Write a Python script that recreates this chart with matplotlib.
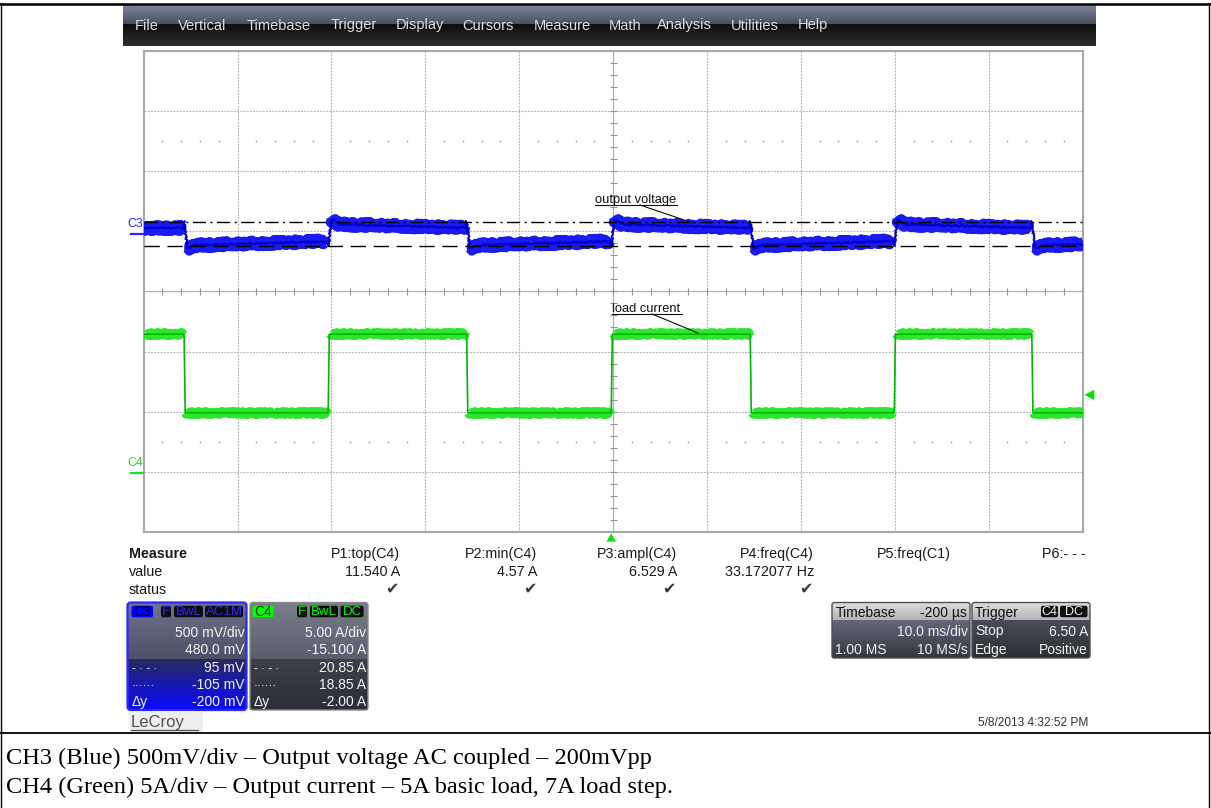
import numpy as np
import matplotlib
matplotlib.use("Agg")
import matplotlib.pyplot as plt
from matplotlib.patches import FancyBboxPatch, Polygon
from matplotlib.collections import LineCollection
from matplotlib.transforms import blended_transform_factory
from matplotlib.colors import to_rgb

plt.rcParams["font.family"] = ["Liberation Sans", "DejaVu Sans"]
plt.rcParams["lines.scale_dashes"] = False

# ---------------- acquisition settings ----------------
time_per_div_ms = 10.0
trigger_ms = -0.2
trigger_level_a = 6.50
c3_scale_mv = 500.0      # mV/div
c3_offset_mv = 480.0
c4_scale_a = 5.0         # A/div
c4_offset_a = -15.1

# ---------------- C4: load current steps ----------------
c4_rise_ms = [-30.35, -0.2, 29.95]
c4_fall_ms = [-45.7, -15.6, 14.6, 44.6]
c4_top_a = 11.540
c4_ampl_a = 6.529
c4_base_a = c4_top_a - c4_ampl_a

# ---------------- C3: output voltage response (AC coupled, mV) ----------------
c3_start_mv = 48
c3_end_mv = -88
c3_rise_dip_mv = -105
c3_overshoot_mv = 118
c3_high_settle_mv = 77
c3_high_end_mv = 48
c3_fall_spike_mv = 105
c3_undershoot_mv = -122
c3_low_settle_mv = -97
c3_low_end_mv = -64

# ---------------- cursors ----------------
c3_cursor_a_mv = 95
c3_cursor_b_mv = -105

# ---------------- readouts ----------------
menu_items = ["File", "Vertical", "Timebase", "Trigger", "Display", "Cursors",
              "Measure", "Math", "Analysis", "Utilities", "Help"]
menu_x = [135, 178, 247, 331, 396, 462, 534, 609, 657, 731, 798]
meas_names = ["P1:top(C4)", "P2:min(C4)", "P3:ampl(C4)", "P4:freq(C4)", "P5:freq(C1)", "P6:- - -"]
meas_values = ["11.540 A", "4.57 A", "6.529 A", "33.172077 Hz", "", ""]
meas_status = [True, True, True, True, False, False]
meas_right_x = [400, 537.5, 677, 814, 951, 1086]
c3_rows = ["500 mV/div", "480.0 mV", "95 mV", "-105 mV", "-200 mV"]
c4_rows = ["5.00 A/div", "-15.100 A", "20.85 A", "18.85 A", "-2.00 A"]
caption_lines = ["CH3 (Blue) 500mV/div \u2013 Output voltage AC coupled \u2013 200mVpp",
                 "CH4 (Green) 5A/div \u2013 Output current \u2013 5A basic load, 7A load step."]


def c3_div(mv):
    return (np.asarray(mv, float) + c3_offset_mv) / c3_scale_mv


def c4_div(a):
    return (np.asarray(a, float) + c4_offset_a) / c4_scale_a


W, H = 1211, 808
fig = plt.figure(figsize=(W / 100, H / 100), dpi=100)
bg = fig.add_axes([0, 0, 1, 1])
bg.set_xlim(0, W)
bg.set_ylim(H, 0)
bg.axis("off")
bg.set_autoscale_on(False)


def vgrad(x0, y0, x1, y1, c_top, c_bot, z=2):
    a = np.array(to_rgb(c_top))
    b = np.array(to_rgb(c_bot))
    f = np.linspace(0, 1, 64)[:, None]
    img = (a * (1 - f) + b * f)[:, None, :]
    bg.imshow(img, extent=(x0, x1, y1, y0), origin="upper", aspect="auto",
              interpolation="bilinear", zorder=z)


def rbox(x0, y0, x1, y1, fc="none", ec="none", lw=0.0, r=2.5, z=3):
    bg.add_patch(FancyBboxPatch((x0, y0), x1 - x0, y1 - y0,
                                boxstyle=f"round,pad=0,rounding_size={r}",
                                fc=fc, ec=ec, lw=lw, zorder=z))


def badge(x0, x1, yc, text, fc, tc, h=11.5, fs=9.5):
    rbox(x0, yc - h / 2, x1, yc + h / 2, fc=fc, r=2, z=5)
    bg.text((x0 + x1) / 2, yc + 0.5, text, color=tc, fontsize=fs, ha="center",
            va="center", zorder=6)


# ---- document frame ----
bg.plot([0, W], [3.5, 3.5], color="black", lw=1.8, zorder=10)
bg.plot([1, 1], [3, H], color="black", lw=1.0, zorder=10)
bg.plot([W - 2.5, W - 2.5], [3, H], color="black", lw=1.0, zorder=10)
bg.plot([0, W], [733, 733], color="black", lw=1.3, zorder=10)

# ---- menu bar ----
vgrad(123, 5, 1096, 24, "#80869a", "#4a5062")
vgrad(123, 24, 1096, 46, "#0e0e0e", "#2e2e2e")
for name, x in zip(menu_items, menu_x):
    bg.text(x, 29.5, name, color="#dedede", fontsize=10.5, ha="left", va="baseline", zorder=6)

# ---- scope grid ----
gl, gr, gt, gb = 143.7, 1082.5, 50.7, 532.0
ax = fig.add_axes([gl / W, 1 - gb / H, (gr - gl) / W, (gb - gt) / H])
ax.set_xlim(-5 * time_per_div_ms, 5 * time_per_div_ms)
ax.set_ylim(-4, 4)
ax.set_xticks([])
ax.set_yticks([])
for s in ax.spines.values():
    s.set_color("#a8a8a8")
    s.set_linewidth(1.5)

grid_kw = dict(color="#b4b4b4", lw=0.8, ls=(0, (1.4, 0.9)), zorder=1)
for k in (-4, -3, -2, -1, 1, 2, 3, 4):
    ax.axvline(k * time_per_div_ms, **grid_kw)
for k in (-3, -2, -1, 1, 2, 3):
    ax.axhline(k, **grid_kw)
ax.axvline(0, color="#b0b0b0", lw=0.9, zorder=1)
ax.axhline(0, color="#b0b0b0", lw=0.9, zorder=1)

sub_t = np.arange(-50, 50.01, time_per_div_ms / 5)
sub_y = np.arange(-4, 4.01, 0.2)
tick_dy = 3.5 / 60.16
tick_dx = 3.5 / 9.388
segs = [[(t, -tick_dy), (t, tick_dy)] for t in sub_t]
segs += [[(-tick_dx, y), (tick_dx, y)] for y in sub_y]
ax.add_collection(LineCollection(segs, colors="#959595", linewidths=0.8, zorder=1))

dot_t = [t for t in sub_t if abs(t / time_per_div_ms - round(t / time_per_div_ms)) > 1e-6]
for yrow in (2.5, -2.5):
    ax.plot(dot_t, [yrow] * len(dot_t), ls="none", marker="s", ms=1.1,
            mec="none", mfc="#a0a0a0", zorder=1)

# ---- build traces ----
events = sorted([(t, "r") for t in c4_rise_ms] + [(t, "f") for t in c4_fall_ms])

# C4 current
c4_t, c4_a = [-50.0], [c4_top_a]
c4_plateaus = []
seg_start = -50.0
level = c4_top_a
for te, kind in events:
    c4_plateaus.append(([seg_start, te - 0.05], [level, level]))
    new = c4_top_a if kind == "r" else c4_base_a
    c4_t += [te, te + 0.12]
    c4_a += [level, new]
    level = new
    seg_start = te + 0.15
c4_plateaus.append(([seg_start, 50.0], [level, level]))
c4_t.append(50.0)
c4_a.append(level)

# C3 voltage
c3_t, c3_v = [-50.0], [c3_start_mv]
c3_plateaus = []
cur_t, cur_v = [-50.0], [c3_start_mv]
prev_end = c3_start_mv
for i, (te, kind) in enumerate(events):
    if kind == "r":
        pre, peak, settle, end = c3_rise_dip_mv, c3_overshoot_mv, c3_high_settle_mv, c3_high_end_mv
    else:
        pre, peak, settle, end = c3_fall_spike_mv, c3_undershoot_mv, c3_low_settle_mv, c3_low_end_mv
    cur_t.append(te - 0.12)
    cur_v.append(prev_end)
    c3_plateaus.append((cur_t, cur_v))
    c3_t += [te - 0.12, te, te + 0.35, te + 1.2]
    c3_v += [prev_end, pre, peak, settle]
    nxt = events[i + 1][0] if i + 1 < len(events) else None
    if nxt is None:
        c3_t.append(50.0)
        c3_v.append(c3_end_mv)
        c3_plateaus.append(([te + 0.35, te + 1.2, 50.0], [peak, settle, c3_end_mv]))
    else:
        c3_t.append(nxt - 0.12)
        c3_v.append(end)
        cur_t, cur_v = [te + 0.35, te + 1.2], [peak, settle]
        prev_end = end

# draw C4
for pt, pv in c4_plateaus:
    ln, = ax.plot(pt, c4_div(pv), color="#2ee62e", lw=6.0, solid_capstyle="butt", zorder=3)
    ln.set_sketch_params(1.8, 2.0, 3.0)
ax.plot(c4_t, c4_div(c4_a), color="#00b800", lw=1.2, zorder=3.2)

# draw C3
for pt, pv in c3_plateaus:
    ln, = ax.plot(pt, c3_div(pv), color="#1a1af2", lw=7.2, solid_capstyle="butt", zorder=3)
    ln.set_sketch_params(3.0, 1.5, 3.0)
ln, = ax.plot(c3_t, c3_div(c3_v), color="#0000cc", lw=1.3, zorder=3.2)
ln.set_sketch_params(1.0, 2.0, 2.0)

# cursors
ax.axhline(c3_div(c3_cursor_a_mv), color="black", lw=1.0, ls=(0, (9.5, 3.2, 1.5, 3.2)), zorder=4)
ax.axhline(c3_div(c3_cursor_b_mv), color="black", lw=1.0, ls=(0, (11, 5.5)), zorder=4)

# ground markers and labels
btr = blended_transform_factory(ax.transAxes, ax.transData)
ax.plot([-0.0135, -0.001], [c3_div(0), c3_div(0)], color="#2a2aff", lw=1.6,
        transform=btr, clip_on=False, zorder=5)
ax.text(-0.0005, c3_div(0) + 0.16, "C3", color="#2a2aff", fontsize=8.8, ha="right",
        va="center", transform=btr, clip_on=False)
ax.plot([-0.0135, -0.001], [c4_div(0), c4_div(0)], color="#22e022", lw=1.6,
        transform=btr, clip_on=False, zorder=5)
ax.text(-0.0005, c4_div(0) + 0.16, "C4", color="#22e022", fontsize=8.8, ha="right",
        va="center", transform=btr, clip_on=False)

# trigger level marker (right edge) and trigger time marker (bottom)
tl = float(c4_div(trigger_level_a))
ax.add_patch(Polygon([(1.002, tl), (1.0125, tl + 0.085), (1.0125, tl - 0.085)],
                     closed=True, fc="#00e400", ec="none", transform=btr, clip_on=False))
btr2 = blended_transform_factory(ax.transData, ax.transAxes)
ax.add_patch(Polygon([(trigger_ms, -0.003), (trigger_ms - 0.5, -0.02), (trigger_ms + 0.5, -0.02)],
                     closed=True, fc="#00e400", ec="none", transform=btr2, clip_on=False))

# ---- overlay for notes drawn over the screen ----
fg = fig.add_axes([0, 0, 1, 1], facecolor="none")
fg.set_xlim(0, W)
fg.set_ylim(H, 0)
fg.axis("off")


def underlined_note(x, y_base, text, x_end, lead_from, lead_to):
    fg.text(x, y_base, text, fontsize=9.3, ha="left", va="baseline", color="#111111", zorder=8)
    fg.plot([x, x_end], [y_base + 2.5, y_base + 2.5], color="#111111", lw=0.8, zorder=8)
    fg.plot([lead_from[0], lead_to[0]], [lead_from[1], lead_to[1]], color="#111111", lw=0.8, zorder=8)


underlined_note(595, 202.5, "output voltage", 677, (640, 205), (693, 223))
underlined_note(612, 311.5, "load current", 682, (652, 314), (698, 333))

# ---- measurement table ----
txt = "#1a1a1a"
bg.text(128.5, 558, "Measure", fontsize=10.3, fontweight="bold", color=txt, va="baseline")
bg.text(129, 576, "value", fontsize=10.3, color=txt, va="baseline")
bg.text(129, 594, "status", fontsize=10.3, color=txt, va="baseline")
for name, val, ok, xr in zip(meas_names, meas_values, meas_status, meas_right_x):
    bg.text(xr, 558, name, fontsize=10.3, color=txt, ha="right", va="baseline")
    if val:
        bg.text(xr, 576, val, fontsize=10.3, color=txt, ha="right", va="baseline")
    if ok:
        bg.text(xr - 8, 589.5, "\u2714", fontsize=11.5, color="#3c3c3c", ha="center",
                va="center", family="DejaVu Sans")

# ---- channel descriptor boxes ----
row_y = [637, 654, 672, 689, 706]
# C3
vgrad(128, 603, 246, 659, "#70748a", "#4c5066", z=2)
vgrad(128, 659, 246, 710, "#262a5c", "#0a0aff", z=2)
rbox(127.5, 602.5, 246.5, 710, ec="#2a2aff", lw=1.6, r=3, z=4)
badge(131.5, 153, 611.5, "C3", "#0000ff", "#000033", fs=10)
badge(161, 171, 611.5, "F", "#0c0c0c", "#2a2aff")
badge(174, 203, 611.5, "BwL", "#0c0c0c", "#2a2aff")
badge(205, 243, 611.5, "AC1M", "#0c0c0c", "#2a2aff")
for yv, t in zip(row_y, c3_rows):
    bg.text(244.5, yv, t, fontsize=10, color="#f4f4f4", ha="right", va="baseline", zorder=6)
# C4
vgrad(250, 603, 368, 659, "#7a7e8a", "#5a5e6a", z=2)
vgrad(250, 659, 368, 710, "#3e414a", "#2c2e36", z=2)
rbox(250, 602.5, 368, 710, ec="#8a8a8a", lw=1.0, r=3, z=4)
badge(252.5, 273.5, 611.5, "C4", "#00ff00", "#002200", fs=10)
badge(297, 307, 611.5, "F", "#0c0c0c", "#00ff00")
badge(310, 338, 611.5, "BwL", "#0c0c0c", "#00ff00")
badge(340.5, 363.5, 611.5, "DC", "#0c0c0c", "#00ff00")
for yv, t in zip(row_y, c4_rows):
    bg.text(366, yv, t, fontsize=10, color="#f4f4f4", ha="right", va="baseline", zorder=6)
for yv, sym in zip(row_y[2:], ["- \u00b7 - \u00b7", "\u00b7\u00b7\u00b7\u00b7\u00b7\u00b7", "\u0394y"]):
    fs = 10 if sym == "\u0394y" else 8.5
    bg.text(131.5, yv, sym, fontsize=fs, color="#f4f4f4", ha="left", va="baseline", zorder=6)
    bg.text(253.5, yv, sym, fontsize=fs, color="#f4f4f4", ha="left", va="baseline", zorder=6)

# timebase / trigger boxes
vgrad(832, 603, 970, 620, "#dcdcdc", "#b4b4b4", z=2)
vgrad(832, 620, 970, 658, "#646878", "#34363e", z=2)
rbox(832, 602.5, 970, 658, ec="#505050", lw=1.0, r=2.5, z=4)
bg.text(836, 617, "Timebase", fontsize=10, color="#101010", va="baseline", zorder=6)
bg.text(967, 617, "-200 \u00b5s", fontsize=10, color="#101010", ha="right", va="baseline", zorder=6)
bg.text(968, 635.5, "10.0 ms/div", fontsize=10, color="#f0f0f0", ha="right", va="baseline", zorder=6)
bg.text(835, 654, "1.00 MS", fontsize=10, color="#f0f0f0", va="baseline", zorder=6)
bg.text(968, 654, "10 MS/s", fontsize=10, color="#f0f0f0", ha="right", va="baseline", zorder=6)

vgrad(972, 603, 1090, 620, "#dcdcdc", "#b4b4b4", z=2)
vgrad(972, 620, 1090, 658, "#4a4d56", "#2c2e34", z=2)
rbox(972, 602.5, 1090, 658, ec="#505050", lw=1.0, r=2.5, z=4)
bg.text(975, 617, "Trigger", fontsize=10, color="#101010", va="baseline", zorder=6)
badge(1041, 1058, 611.5, "C4", "#101010", "#f0f0f0", fs=9)
badge(1060, 1087.5, 611.5, "DC", "#101010", "#f0f0f0", fs=9)
bg.text(975, 635.5, "Stop", fontsize=10, color="#f0f0f0", va="baseline", zorder=6)
bg.text(1088, 635.5, "6.50 A", fontsize=10, color="#f0f0f0", ha="right", va="baseline", zorder=6)
bg.text(975, 654, "Edge", fontsize=10, color="#f0f0f0", va="baseline", zorder=6)
bg.text(1088, 654, "Positive", fontsize=10, color="#f0f0f0", ha="right", va="baseline", zorder=6)

# footer of the screen
bg.add_patch(plt.Rectangle((129, 712), 74, 20, fc="#eeeeee", ec="none", zorder=2))
bg.text(131, 727.5, "LeCroy", fontsize=12, color="#505050", va="baseline", zorder=6)
bg.plot([131, 198], [730, 730], color="#505050", lw=0.9, zorder=6)
bg.text(1088, 726, "5/8/2013 4:32:52 PM", fontsize=8.6, color="#333333", ha="right",
        va="baseline", zorder=6)

# ---- captions ----
for yb, line in zip([764, 793], caption_lines):
    bg.text(6, yb, line, fontsize=17.6, family=["Liberation Serif", "DejaVu Serif"],
            color="black", ha="left", va="baseline", zorder=6)

bg.set_xlim(0, W)
bg.set_ylim(H, 0)
fig.savefig("out.png", dpi=100)
